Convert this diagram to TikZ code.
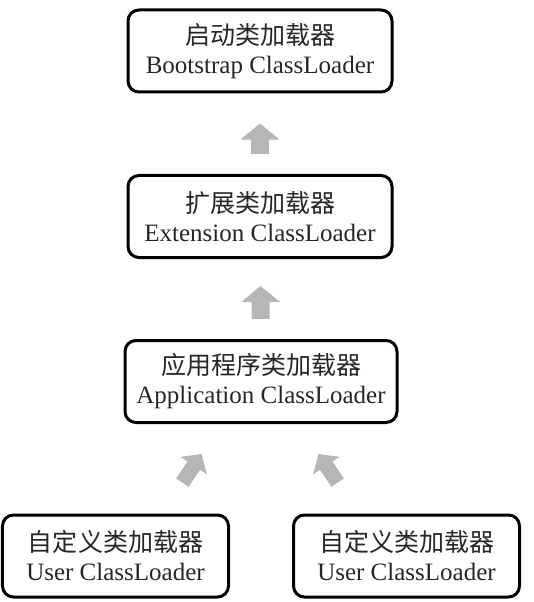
\documentclass[tikz,border=0pt]{standalone}
\usepackage{fontspec}
\setmainfont{Liberation Serif}
\newfontfamily\cjk{Noto Sans CJK SC}
\usetikzlibrary{arrows.meta,positioning}
\definecolor{arrgray}{RGB}{182,182,182}
\tikzset{
  loader/.style={draw, line width=3bp, rounded corners=11bp, minimum height=82bp,
    inner sep=0pt, align=center, text=black!85, font=\fontsize{25bp}{29bp}\selectfont},
  uparr/.style={arrgray, line width=18bp, -{Triangle[width=38bp,length=16bp]}},
  slantarr/.style={arrgray, line width=15bp, -{Triangle[width=31bp,length=14bp]}}
}
\begin{document}
\begin{tikzpicture}[x=1bp, y=-1bp, line join=round]
\useasboundingbox (0,0) rectangle (534,602);
\node[loader, minimum width=264bp] (boot) at (260,51) {{\cjk 启动类加载器}\\Bootstrap ClassLoader};
\node[loader, minimum width=264bp] (ext) at (260,216.5) {{\cjk 扩展类加载器}\\Extension ClassLoader};
\node[loader, minimum width=272bp] (app) at (261,381.5) {{\cjk 应用程序类加载器}\\Application ClassLoader};
\foreach \n/\x in {user1/115.5, user2/406.5}
  \node[loader, minimum width=226bp] (\n) at (\x,556) {{\cjk 自定义类加载器}\\User ClassLoader};
% parent delegation arrows
\draw[uparr, shorten <=20bp, shorten >=30bp] (ext.north) -- (boot.south);
\draw[uparr, shorten <=20bp, shorten >=27bp] (app.north) -- (ext.south);
\draw[slantarr, shorten <=37bp, shorten >=36bp] ([xshift=46.5bp]user1.north) -- ([xshift=-39.6bp]app.south);
\draw[slantarr, shorten <=37bp, shorten >=36bp] ([xshift=-48.5bp]user2.north) -- ([xshift=37.6bp]app.south);
\end{tikzpicture}
\end{document}
